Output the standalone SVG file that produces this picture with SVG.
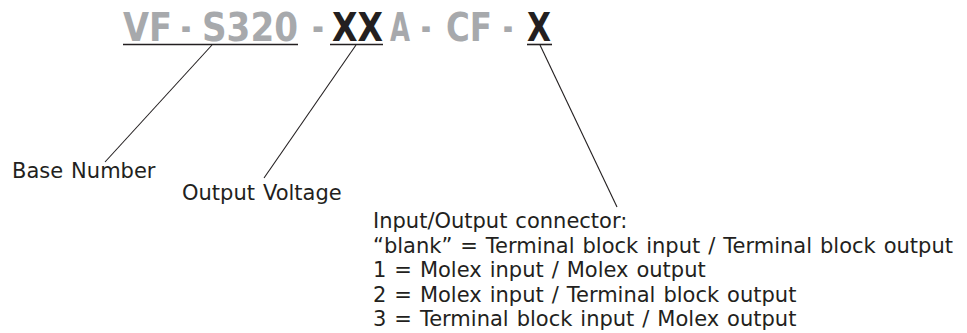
<svg xmlns="http://www.w3.org/2000/svg" width="967" height="333" viewBox="0 0 967 333">
<style>
.t{font-family:"DejaVu Sans Condensed","DejaVu Sans",sans-serif;font-weight:bold;font-size:39px}
.g{fill:#a7a9ac}
.k{fill:#231f20}
.b{font-family:"DejaVu Sans",Verdana,sans-serif;font-size:21px;word-spacing:1.3px;fill:#231f20}
.u{stroke:#231f20;stroke-width:1.6;fill:none}
.c{stroke:#231f20;stroke-width:1.1;fill:none}
</style>
<rect width="967" height="333" fill="#ffffff"/>
<g id="part-number">
<text class="t g" x="123" y="41" textLength="49" lengthAdjust="spacingAndGlyphs">VF</text>
<text class="t g" x="181" y="41" textLength="10" lengthAdjust="spacingAndGlyphs">-</text>
<text class="t g" x="202" y="41" textLength="96" lengthAdjust="spacingAndGlyphs">S320</text>
<text class="t g" x="312" y="41" textLength="12" lengthAdjust="spacingAndGlyphs">-</text>
<text class="t k" x="332" y="41" textLength="51" lengthAdjust="spacingAndGlyphs">XX</text>
<text class="t g" x="390" y="41" textLength="20" lengthAdjust="spacingAndGlyphs">A</text>
<text class="t g" x="421" y="41" textLength="10" lengthAdjust="spacingAndGlyphs">-</text>
<text class="t g" x="446" y="41" textLength="46" lengthAdjust="spacingAndGlyphs">CF</text>
<text class="t g" x="503" y="41" textLength="10" lengthAdjust="spacingAndGlyphs">-</text>
<text class="t k" x="527" y="41" textLength="24" lengthAdjust="spacingAndGlyphs">X</text>
<line class="u" x1="123" y1="44.5" x2="298" y2="44.5"/>
<line class="u" x1="330" y1="44.5" x2="383" y2="44.5"/>
<line class="u" x1="527" y1="44.5" x2="552" y2="44.5"/>
</g>
<g id="connectors">
<line class="c" x1="212" y1="45" x2="105" y2="162"/>
<line class="c" x1="356" y1="45" x2="264" y2="178"/>
<line class="c" x1="540" y1="45" x2="617" y2="207"/>
</g>
<g id="base-number">
<text class="b" x="12" y="178">Base Number</text>
</g>
<g id="output-voltage">
<text class="b" x="182" y="200">Output Voltage</text>
</g>
<g id="io-connector">
<text class="b" x="373" y="228">Input/Output connector:</text>
<text class="b" x="373" y="252.5">“blank” = Terminal block input / Terminal block output</text>
<text class="b" x="373" y="277">1 = Molex input / Molex output</text>
<text class="b" x="373" y="301.5">2 = Molex input / Terminal block output</text>
<text class="b" x="373" y="326">3 = Terminal block input / Molex output</text>
</g>
</svg>
